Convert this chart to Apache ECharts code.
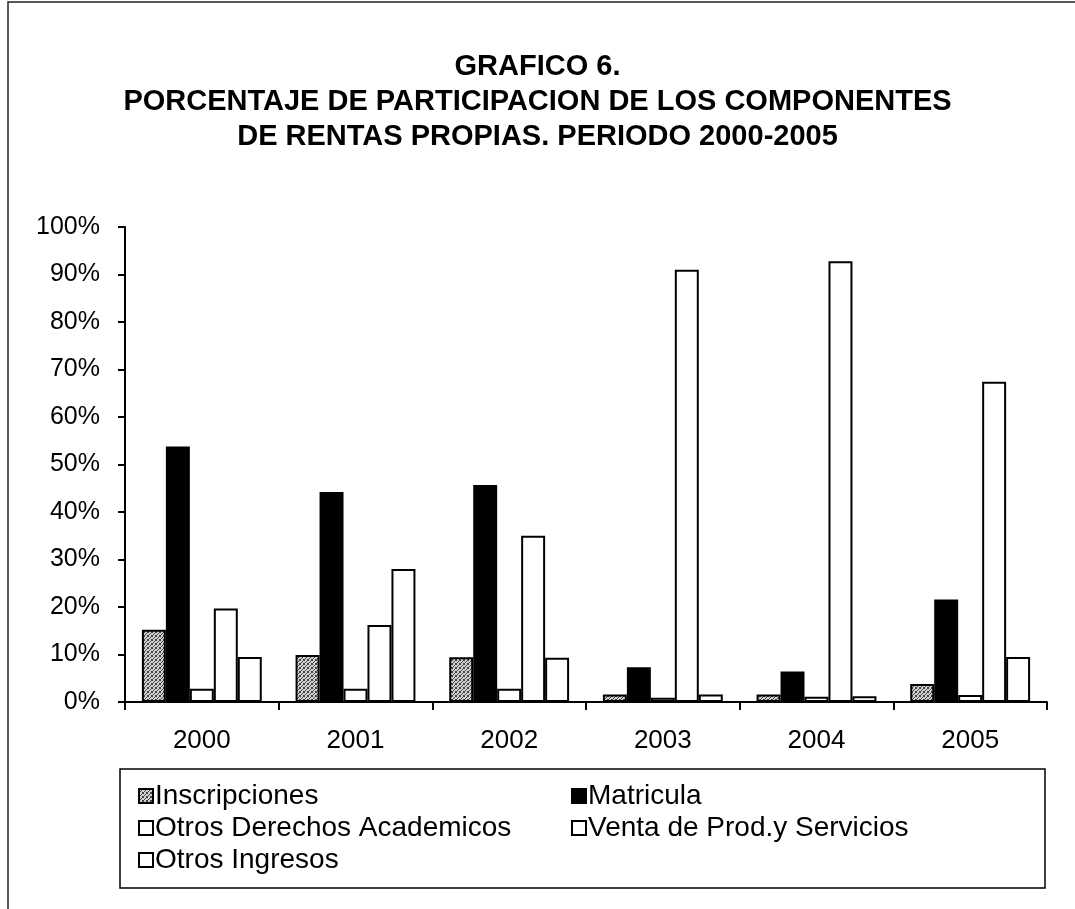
<!DOCTYPE html>
<html>
<head>
<meta charset="utf-8">
<script src="https://cdn.jsdelivr.net/npm/echarts@6/dist/echarts.min.js"></script>
<style>
  html, body { margin: 0; padding: 0; background: #fff; }
  #chart { width: 1075px; height: 909px; }
</style>
</head>
<body>
<div id="chart"></div>
<script>
  var years = ['2000', '2001', '2002', '2003', '2004', '2005'];
  var inscripciones = [15.2, 9.9, 9.4, 1.6, 1.6, 3.8];
  var matricula = [53.8, 44.2, 45.7, 7.3, 6.4, 21.6];
  var otrosDerechos = [2.8, 2.8, 2.8, 0.9, 1.1, 1.5];
  var ventaProd = [19.7, 16.2, 35.0, 91.0, 92.8, 67.4];
  var otrosIngresos = [9.5, 28.0, 9.3, 1.6, 1.2, 9.5];
  var yTicks = [0, 10, 20, 30, 40, 50, 60, 70, 80, 90, 100];

  // punteado gris para Inscripciones
  var pat = document.createElement('canvas');
  pat.width = 4; pat.height = 4;
  var pc = pat.getContext('2d');
  pc.fillStyle = '#d0d0d0'; pc.fillRect(0, 0, 4, 4);
  pc.fillStyle = '#444';
  pc.fillRect(0, 0, 1, 1); pc.fillRect(2, 1, 1, 1); pc.fillRect(1, 2, 1, 1); pc.fillRect(3, 3, 1, 1);
  pc.fillRect(3, 0, 1, 1); pc.fillRect(0, 3, 1, 1);

  var font = '"Liberation Sans", Arial, sans-serif';
  var chart = echarts.init(document.getElementById('chart'));

  function barSerie(name, data, fill) {
    return {
      name: name,
      type: 'bar',
      data: data,
      barGap: 0,
      barCategoryGap: '22%',
      itemStyle: { color: fill, borderColor: '#000', borderWidth: 2 }
    };
  }

  var legendText = { fontFamily: font, fontSize: 28, color: '#000', lineHeight: 28, padding: [0, 0, 0, -3] };

  chart.setOption({
    animation: false,
    backgroundColor: '#fff',
    title: {
      text: 'GRAFICO 6.\nPORCENTAJE DE PARTICIPACION DE LOS COMPONENTES\nDE RENTAS PROPIAS. PERIODO 2000-2005',
      left: 'center',
      top: 49,
      padding: [0, 0, 0, 12],
      textStyle: { fontFamily: font, fontSize: 29, fontWeight: 'bold', color: '#000', lineHeight: 35 }
    },
    legend: [
      {
        orient: 'vertical', left: 133, top: 777, itemGap: 4,
        itemWidth: 14, itemHeight: 14, icon: 'rect',
        data: ['Inscripciones', 'Otros Derechos Academicos', 'Otros Ingresos'],
        textStyle: legendText
      },
      {
        orient: 'vertical', left: 566, top: 777, itemGap: 4,
        itemWidth: 14, itemHeight: 14, icon: 'rect',
        data: ['Matricula', 'Venta de Prod.y Servicios'],
        textStyle: legendText
      }
    ],
    graphic: [
      { type: 'rect', shape: { x: 8, y: 2, width: 1100, height: 1000 }, style: { fill: null, stroke: '#222', lineWidth: 1.5 }, silent: true },
      { type: 'rect', shape: { x: 120, y: 769, width: 925, height: 119 }, style: { fill: null, stroke: '#000', lineWidth: 1.5 }, silent: true }
    ],
    grid: { left: 125, right: 28, top: 227, bottom: 207 },
    xAxis: {
      type: 'category',
      data: years,
      axisLine: { lineStyle: { color: '#000', width: 2 } },
      axisTick: { show: true, length: 8, lineStyle: { color: '#000', width: 2 } },
      axisLabel: { fontFamily: font, fontSize: 26, color: '#000', margin: 26 }
    },
    yAxis: {
      type: 'value',
      min: yTicks[0],
      max: yTicks[yTicks.length - 1],
      interval: 10,
      axisLine: { show: true, lineStyle: { color: '#000', width: 2 } },
      axisTick: { show: true, length: 7, lineStyle: { color: '#000', width: 2 } },
      splitLine: { show: false },
      axisLabel: { fontFamily: font, fontSize: 25, color: '#000', margin: 25, formatter: '{value}%' }
    },
    series: [
      barSerie('Inscripciones', inscripciones, { image: pat, repeat: 'repeat' }),
      barSerie('Matricula', matricula, '#000'),
      barSerie('Otros Derechos Academicos', otrosDerechos, '#fff'),
      barSerie('Venta de Prod.y Servicios', ventaProd, '#fff'),
      barSerie('Otros Ingresos', otrosIngresos, '#fff')
    ]
  });
</script>
</body>
</html>
